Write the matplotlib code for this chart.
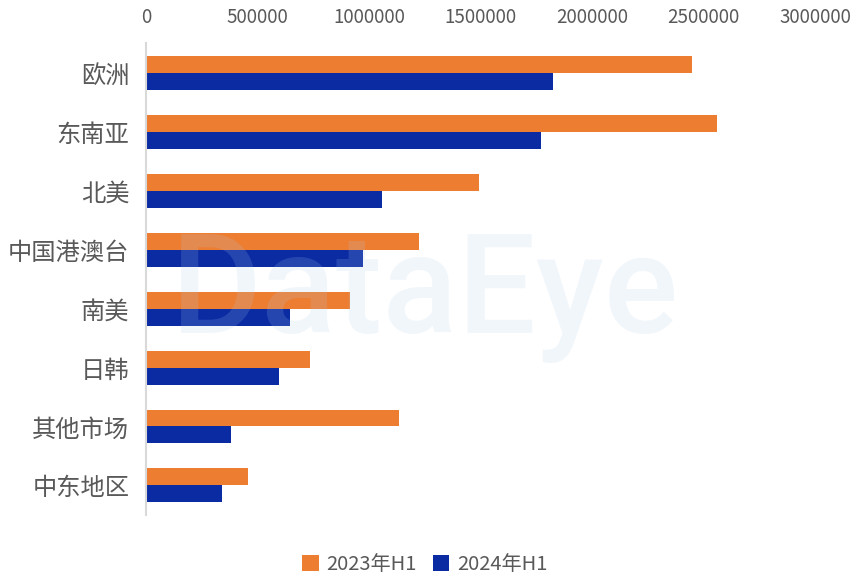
import matplotlib.pyplot as plt
import numpy as np

plt.rcParams['font.family'] = ['Noto Sans CJK SC', 'DejaVu Sans']

# data
regions = ['欧洲', '东南亚', '北美', '中国港澳台', '南美', '日韩', '其他市场', '中东地区']
h1_2023 = [2448000, 2560000, 1493000, 1224000, 915000, 735000, 1135000, 457000]
h1_2024 = [1825000, 1771000, 1058000, 973000, 646000, 596000, 381000, 341000]
xticks = [0, 500000, 1000000, 1500000, 2000000, 2500000, 3000000]

fig = plt.figure(figsize=(8.5, 5.76), dpi=100)
ax = fig.add_axes([0.1718, 0.106, 0.787, 0.819])

y = np.arange(len(regions))
h = 0.288
ax.barh(y - h / 2, h1_2023, height=h, color='#ed7d31', label='2023年H1')
ax.barh(y + h / 2, h1_2024, height=h, color='#0b2ba3', label='2024年H1')

ax.set_ylim(len(regions) - 0.5, -0.5)
ax.set_xlim(0, 3000000)
ax.set_yticks(y)
ax.set_yticklabels(regions, fontsize=17.5)
ax.set_xticks(xticks)
ax.set_xticklabels([str(v) for v in xticks], fontsize=13.5)
ax.xaxis.tick_top()
ax.tick_params(axis='both', length=0, colors='#595959')
ax.tick_params(axis='x', pad=11)
ax.tick_params(axis='y', pad=12)

for s in ['top', 'right', 'bottom']:
    ax.spines[s].set_visible(False)
ax.spines['left'].set_color('#d9d9d9')
ax.spines['left'].set_linewidth(1.5)

# watermark over the bars
fig.text(0.5, 0.485, 'DataEye', fontsize=100, fontweight='medium', color='#afcdeb', alpha=0.17,
         ha='center', va='center', family='Roboto', zorder=5)

leg = fig.legend(loc='lower center', bbox_to_anchor=(0.5, -0.03), ncol=2, frameon=False,
                 fontsize=14.5, handlelength=0.8, handleheight=0.8, handletextpad=0.4,
                 columnspacing=0.8)
for t in leg.get_texts():
    t.set_color('#595959')

fig.savefig('out.png', dpi=100)
